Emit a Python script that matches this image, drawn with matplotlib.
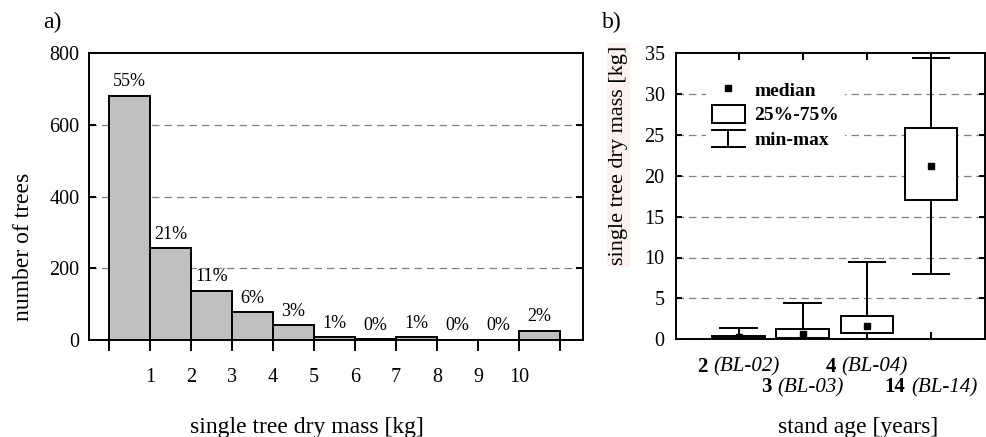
import matplotlib
matplotlib.use("Agg")
import matplotlib.pyplot as plt
import matplotlib.transforms as mtransforms
from matplotlib.lines import Line2D
from matplotlib.patches import Rectangle
from matplotlib.legend_handler import HandlerBase
from matplotlib.offsetbox import TextArea, HPacker, AnnotationBbox

plt.rcParams['font.family'] = ['Liberation Serif', 'DejaVu Serif']

# ---------------- data ----------------
# panel a: histogram of single tree dry mass
bin_left = [0, 1, 2, 3, 4, 5, 6, 7, 8, 9, 10]
tree_counts = [681, 256, 137, 77, 41, 8, 2, 8, 0, 0, 26]
pct_labels = ["55%", "21%", "11%", "6%", "3%", "1%", "0%", "1%", "0%", "0%", "2%"]
hist_ticks = [0, 1, 2, 3, 4, 5, 6, 7, 8, 9, 10, 11]
hist_ticklabels = ["", "1", "2", "3", "4", "5", "6", "7", "8", "9", "10", ""]
hist_yticks = [0, 200, 400, 600, 800]

# panel b: boxplots per stand age
ages = ["2", "3", "4", "14"]
plots = ["(BL-02)", "(BL-03)", "(BL-04)", "(BL-14)"]
mass_min = [0.0, 0.0, 0.0, 8.0]
mass_q1 = [0.15, 0.2, 0.8, 17.0]
mass_med = [0.25, 0.7, 1.6, 21.2]
mass_q3 = [0.45, 1.2, 2.8, 25.8]
mass_max = [1.4, 4.4, 9.4, 34.4]
box_yticks = [0, 5, 10, 15, 20, 25, 30, 35]

# ---------------- figure ----------------
W, H = 986, 437
fig = plt.figure(figsize=(W / 100, H / 100), dpi=100)

def fx(px):
    return px / W

def fy(py):
    return 1 - py / H

LW = 1.4
grid_kw = dict(color='#808080', linestyle=(0, (6, 4)), linewidth=0.9)

# ---------- panel a ----------
axa = fig.add_axes([fx(89), fy(340), fx(583) - fx(89), fy(53) - fy(340)])
axa.bar(bin_left, tree_counts, width=1.0, align='edge', color='#c0c0c0',
        edgecolor='black', linewidth=LW, zorder=2)
for x, c, lab in zip(bin_left, tree_counts, pct_labels):
    axa.annotate(lab, (x + 0.5, c), xytext=(0, 4), textcoords='offset points',
                 ha='center', va='bottom', fontsize=13)
axa.set_xlim(-0.49, 11.56)
axa.set_ylim(0, 800)
axa.set_yticks(hist_yticks)
axa.set_yticklabels([str(v) for v in hist_yticks])
axa.set_xticks(hist_ticks)
axa.set_xticklabels(hist_ticklabels)
for v in hist_yticks[1:-1]:
    axa.axhline(v, zorder=1, **grid_kw)
axa.tick_params(axis='x', direction='out', length=8, width=LW, pad=12, labelsize=14.5)
axa.tick_params(axis='y', direction='in', length=5, width=LW, pad=7, labelsize=14.5,
                left=True, right=True)
for s in axa.spines.values():
    s.set_linewidth(LW)

# ---------- panel b ----------
axb = fig.add_axes([fx(675.7), fy(339.3), fx(985) - fx(675.7), fy(53) - fy(339.3)])
positions = list(range(len(ages)))
stats = []
for i in positions:
    stats.append(dict(whislo=mass_min[i], q1=mass_q1[i], med=mass_med[i],
                      q3=mass_q3[i], whishi=mass_max[i], fliers=[]))
axb.bxp(stats, positions=positions, widths=0.82, capwidths=0.57,
        showfliers=False, patch_artist=True,
        boxprops=dict(facecolor='white', edgecolor='black', linewidth=LW),
        whiskerprops=dict(color='black', linewidth=LW),
        capprops=dict(color='black', linewidth=LW),
        medianprops=dict(linewidth=0), zorder=3)
axb.plot(positions, mass_med, linestyle='none', marker='s', markersize=5,
         color='black', zorder=4)
axb.set_xlim(-0.98, 3.84)
axb.set_ylim(0, 35)
axb.set_yticks(box_yticks)
axb.set_xticks(positions)
axb.set_xticklabels([])
for v in box_yticks[1:-1]:
    axb.axhline(v, zorder=1, **grid_kw)
axb.tick_params(axis='y', direction='in', length=4, width=LW, pad=8, labelsize=14.5,
                left=True, right=True)
axb.tick_params(axis='x', direction='in', length=5, width=LW, top=True, bottom=True)
for s in axb.spines.values():
    s.set_linewidth(LW)

# staggered category labels
row_y = [fy(366.7), fy(387.3)]
lab_trans = mtransforms.blended_transform_factory(axb.transData, fig.transFigure)
for i, (a, p) in enumerate(zip(ages, plots)):
    t1 = TextArea(a, textprops=dict(fontsize=15, fontweight='bold'))
    t2 = TextArea(p, textprops=dict(fontsize=15, fontstyle='italic'))
    pack = HPacker(children=[t1, t2], pad=0, sep=4, align='baseline')
    ab = AnnotationBbox(pack, (i, row_y[i % 2]), xycoords=lab_trans,
                        box_alignment=(0.5, 0.5), frameon=False, pad=0,
                        annotation_clip=False)
    axb.add_artist(ab)

# legend
class WhiskerHandler(HandlerBase):
    def create_artists(self, legend, orig_handle, xdescent, ydescent, width, height,
                       fontsize, trans):
        x0, x1 = -xdescent, -xdescent + width
        y0, y1 = -ydescent, -ydescent + height
        xm = (x0 + x1) / 2
        arts = [Line2D([x0, x1], [y1, y1]), Line2D([x0, x1], [y0, y0]),
                Line2D([xm, xm], [y0, y1])]
        for a in arts:
            a.set_color('black')
            a.set_linewidth(LW)
            a.set_transform(trans)
        return arts

class WhiskerProxy:
    pass

h_med = Line2D([], [], linestyle='none', marker='s', markersize=5, color='black')
h_box = Rectangle((0, 0), 1, 1, facecolor='white', edgecolor='black', linewidth=LW)
h_wh = WhiskerProxy()
leg = axb.legend([h_med, h_box, h_wh], ['median', '25%-75%', 'min-max'],
                 handler_map={WhiskerProxy: WhiskerHandler()},
                 loc='upper left', bbox_to_anchor=(0.098, 0.925),
                 prop=dict(family='Liberation Serif', weight='bold', size=14),
                 frameon=True, fancybox=False, framealpha=1, facecolor='white',
                 edgecolor='none', handlelength=1.7, handleheight=1.0,
                 handletextpad=0.5, labelspacing=0.28, borderpad=0.3,
                 borderaxespad=0)
leg.set_zorder(5)

# axis labels and panel labels
fig.text(fx(24), fy(247), 'number of trees', rotation=90, ha='center', va='center',
         fontsize=17)
fig.text(fx(307), fy(428), 'single tree dry mass [kg]', ha='center', va='center',
         fontsize=17)
fig.text(fx(618), fy(155), 'single tree dry mass [kg]', rotation=90, ha='center',
         va='center', fontsize=16,
         bbox=dict(facecolor='#fcf2f2', edgecolor='none', pad=1.5))
fig.text(fx(858), fy(427), 'stand age [years]', ha='center', va='center',
         fontsize=17)
fig.text(fx(52), fy(22), 'a)', ha='center', va='center', fontsize=17)
fig.text(fx(612), fy(22), 'b)', ha='center', va='center', fontsize=17)

fig.savefig('out.png', dpi=100)
